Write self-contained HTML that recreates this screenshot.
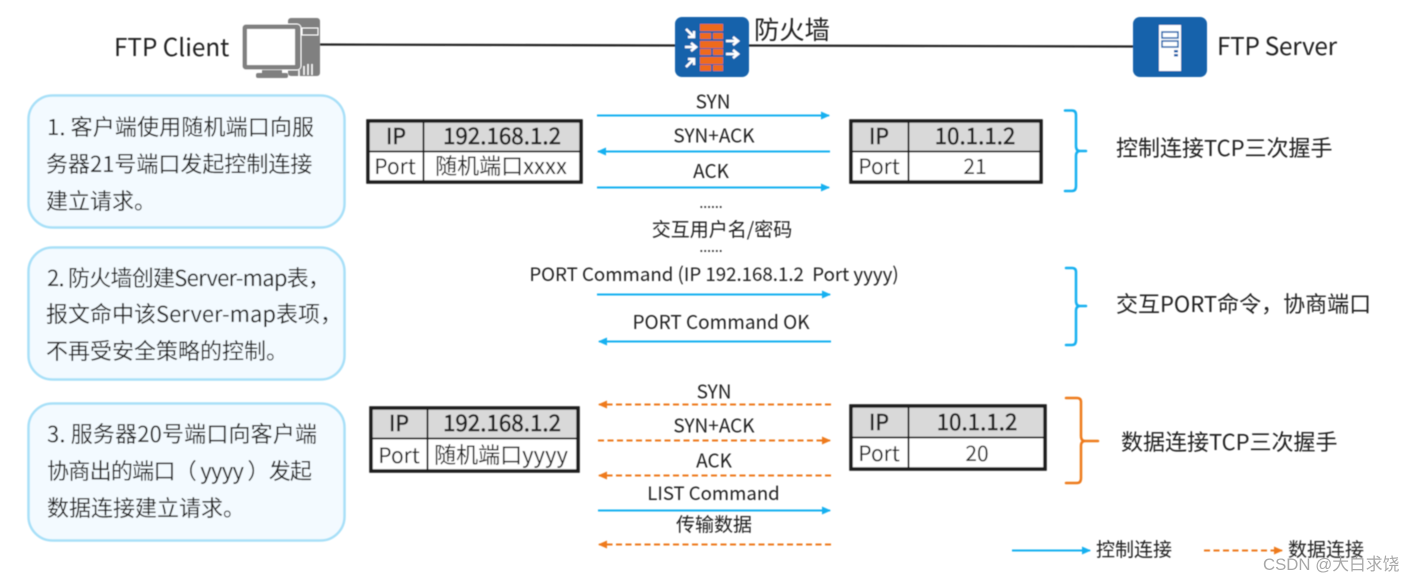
<!DOCTYPE html>
<html><head><meta charset="utf-8">
<style>
html,body{margin:0;padding:0;background:#fff;width:1415px;height:582px;overflow:hidden}
svg{display:block}
text{font-family:"Liberation Sans","Noto Sans CJK SC",sans-serif;fill:#222}
.n{font-family:"Noto Sans CJK SC","Liberation Sans",sans-serif}
.m{text-anchor:middle}
.s{font-size:19px}
.b{font-size:22px}
.p{font-size:21px}
.r{font-size:22.400px;stroke:#222;stroke-width:.5px}
.i{font-size:21.500px;stroke:#222;stroke-width:.5px}
.h{font-size:24.300px}
</style></head><body>
<svg width="1415" height="582" viewBox="0 0 1415 582" xmlns="http://www.w3.org/2000/svg">
<defs>
<marker id="ab" markerWidth="10" markerHeight="10" refX="8" refY="4" orient="auto" markerUnits="userSpaceOnUse"><path d="M0 0L9 4L0 8Z" fill="#12b0f0"/></marker>
<marker id="ao" markerWidth="10" markerHeight="10" refX="8" refY="4" orient="auto" markerUnits="userSpaceOnUse"><path d="M0 0L9 4L0 8Z" fill="#ee7a1c"/></marker>
<filter id="bl" x="-5%" y="-5%" width="110%" height="110%"><feGaussianBlur stdDeviation="0.45"/></filter>
</defs>
<g filter="url(#bl)">
<!-- top line -->
<path d="M316 44.500L680 45.500M745 45.500L1135 46.500" stroke="#222" stroke-width="2.200" fill="none"/>
<text class="n h" x="114" y="56">FTP Client</text>
<!-- computer -->
<rect x="288" y="18" width="32" height="58" rx="3" fill="#808080"/>
<rect x="302" y="28" width="16" height="7" fill="#808080" stroke="#fff"/>
<path d="M299 76V70M304 75V66M308 75V64M312 75V64" stroke="#fff" stroke-width="1.500"/>
<rect x="242" y="24" width="59" height="46" rx="4" fill="#808080" stroke="#fff" stroke-width="1"/>
<rect x="247" y="29" width="48" height="36" fill="#fff"/>
<rect x="256" y="73" width="32" height="5" rx="2" fill="#808080"/>
<rect x="262" y="70" width="20" height="3" fill="#808080"/>
<!-- firewall -->
<rect x="675" y="17" width="74" height="60" rx="7" fill="#1262ab"/>
<g fill="#ee6a1f">
<rect x="700" y="24" width="23" height="7"/><rect x="700" y="33" width="11" height="6"/><rect x="713" y="33" width="10" height="6"/>
<rect x="700" y="41" width="23" height="7"/><rect x="700" y="49" width="11" height="6"/><rect x="713" y="49" width="10" height="6"/>
<rect x="700" y="57" width="23" height="7"/><rect x="700" y="65" width="11" height="6"/><rect x="713" y="65" width="10" height="6"/>
</g>
<g stroke="#fff" stroke-width="2.500" fill="none">
<path d="M686 29L694 37M694 31V37H688"/><path d="M685 47H695M691 43L696 47L691 51"/><path d="M686 67L694 59M688 59H694V65"/>
<path d="M726 41H737M733 37L738 41L733 45"/><path d="M726 54H737M733 50L738 54L733 58"/>
</g>
<text x="754" y="39" font-size="25.300" class="n">防火墙</text>
<!-- server -->
<rect x="1133" y="17" width="74" height="60" rx="7" fill="#1262ab"/>
<rect x="1159" y="25" width="22" height="46" fill="#fff"/>
<rect x="1162" y="32" width="16" height="6" fill="#fff" stroke="#1262ab" stroke-width="1.500"/>
<rect x="1162" y="41" width="16" height="6" fill="#fff" stroke="#1262ab" stroke-width="1.500"/>
<rect x="1174" y="50" width="4" height="2.500" fill="#1262ab"/><rect x="1174" y="54" width="4" height="2.500" fill="#1262ab"/>
<text class="n h" x="1217" y="55" textLength="120">FTP Server</text>
<!-- left boxes -->
<rect x="28.500" y="95.500" width="316" height="132" rx="24" fill="#f3faff" stroke="#a8e0f8" stroke-width="2.500"/>
<rect x="28.500" y="247.500" width="316" height="132" rx="24" fill="#f3faff" stroke="#a8e0f8" stroke-width="2.500"/>
<rect x="28.500" y="403.500" width="316" height="137" rx="24" fill="#f3faff" stroke="#a8e0f8" stroke-width="2.500"/>
<text class="n b" x="47" y="135" textLength="267">1. 客户端使用随机端口向服</text>
<text class="n b" x="46" y="172">务器21号端口发起控制连接</text>
<text class="n b" x="46" y="209">建立请求。</text>
<text class="n b" x="47" y="286" textLength="283">2. 防火墙创建Server-map表，</text>
<text class="n b" x="46" y="322">报文命中该Server-map表项，</text>
<text class="n b" x="46" y="359">不再受安全策略的控制。</text>
<text class="n b" x="47" y="442" textLength="270">3. 服务器20号端口向客户端</text>
<text class="n b" x="47" y="479" textLength="265">协商出的端口（ yyyy ）发起</text>
<text class="n b" x="47" y="516">数据连接建立请求。</text>
<!-- table 1 -->
<rect x="368" y="121" width="213" height="61" fill="#fff" stroke="#1a1a1a" stroke-width="3.500"/>
<rect x="370" y="123" width="209" height="28" fill="#d9d9d9"/>
<path d="M368 151.500H581M423.500 121V182" stroke="#1a1a1a" stroke-width="1.800"/>
<text class="n i m" x="396" y="144">IP</text>
<text class="n r m" x="502" y="144">192.168.1.2</text>
<text class="n p m" x="395" y="174">Port</text>
<text class="n b m" x="501" y="174">随机端口xxxx</text>
<!-- table 2 -->
<rect x="851" y="121" width="190" height="61" fill="#fff" stroke="#1a1a1a" stroke-width="3.500"/>
<rect x="853" y="123" width="186" height="28" fill="#d9d9d9"/>
<path d="M851 151.500H1041M908.500 121V182" stroke="#1a1a1a" stroke-width="1.800"/>
<text class="n i m" x="879" y="144">IP</text>
<text class="n r m" x="975" y="144">10.1.1.2</text>
<text class="n p m" x="879" y="174">Port</text>
<text class="n p m" x="975" y="174">21</text>
<!-- table 3 -->
<rect x="371" y="408" width="207" height="63" fill="#fff" stroke="#1a1a1a" stroke-width="3.500"/>
<rect x="373" y="410" width="203" height="28" fill="#d9d9d9"/>
<path d="M371 438.500H578M427.500 408V471" stroke="#1a1a1a" stroke-width="1.800"/>
<text class="n i m" x="399" y="431">IP</text>
<text class="n r m" x="502" y="431">192.168.1.2</text>
<text class="n p m" x="399" y="463">Port</text>
<text class="n b m" x="501" y="463">随机端口yyyy</text>
<!-- table 4 -->
<rect x="851" y="406" width="194" height="63" fill="#fff" stroke="#1a1a1a" stroke-width="3.500"/>
<rect x="853" y="408" width="190" height="29" fill="#d9d9d9"/>
<path d="M851 437.500H1045M908.500 406V469" stroke="#1a1a1a" stroke-width="1.800"/>
<text class="n i m" x="879" y="430">IP</text>
<text class="n r m" x="977" y="430">10.1.1.2</text>
<text class="n p m" x="879" y="461">Port</text>
<text class="n p m" x="977" y="461">20</text>
<!-- blue arrows -->
<g stroke="#12b0f0" stroke-width="2" fill="none">
<path d="M597 115.500H829" marker-end="url(#ab)"/>
<path d="M830 151.500H598" marker-end="url(#ab)"/>
<path d="M597 187.500H829" marker-end="url(#ab)"/>
<path d="M597 294.500H830" marker-end="url(#ab)"/>
<path d="M831 341.500H599" marker-end="url(#ab)"/>
<path d="M598 510.500H830" marker-end="url(#ab)"/>
<path d="M1012 550.500H1090" marker-end="url(#ab)"/>
</g>
<!-- orange arrows -->
<g stroke="#ee7a1c" stroke-width="2" fill="none" stroke-dasharray="6 3.500">
<path d="M831 404.500H599" marker-end="url(#ao)"/>
<path d="M598 440.500H830" marker-end="url(#ao)"/>
<path d="M831 475.500H599" marker-end="url(#ao)"/>
<path d="M831 544.500H599" marker-end="url(#ao)"/>
<path d="M1204 550.500H1282" marker-end="url(#ao)"/>
</g>
<!-- arrow labels -->
<text class="n s m" x="713" y="108.500">SYN</text>
<text class="n s m" x="714" y="142.500">SYN+ACK</text>
<text class="n s m" x="711" y="178">ACK</text>
<text class="n m" x="711" y="208" font-size="14">......</text>
<text class="n s m" x="722" y="236">交互用户名/密码</text>
<text class="n m" x="711" y="252" font-size="14">......</text>
<text class="n m" x="714" y="281" font-size="18.700">PORT Command (IP 192.168.1.2 &#160;Port yyyy)</text>
<text class="n s m" x="721" y="329">PORT Command OK</text>
<text class="n s m" x="714" y="398.500">SYN</text>
<text class="n s m" x="714" y="432.500">SYN+ACK</text>
<text class="n s m" x="714" y="467.500">ACK</text>
<text class="n m" x="713.500" y="500" font-size="18.600">LIST Command</text>
<text class="n s m" x="714" y="531">传输数据</text>
<!-- braces -->
<g fill="none" stroke-width="2.500" stroke-linecap="round">
<path d="M1065 110.500H1072Q1076 110.500 1076 115V146Q1076 151 1080 151H1086M1080 151Q1076 151 1076 156V186Q1076 191 1072 191H1065" stroke="#12b0f0"/>
<path d="M1066 268H1072Q1076 268 1076 272V301Q1076 306 1080 306H1086M1080 306Q1076 306 1076 311V340Q1076 345 1072 345H1066" stroke="#12b0f0"/>
<path d="M1066 398H1077Q1081 398 1081 402V436Q1081 441 1085 441H1098M1085 441Q1081 441 1081 446V478Q1081 483 1077 483H1066" stroke="#ee7a1c"/>
</g>
<text class="n b" x="1116" y="156">控制连接TCP三次握手</text>
<text class="n b" x="1116" y="312">交互PORT命令，协商端口</text>
<text class="n b" x="1121" y="450">数据连接TCP三次握手</text>
<text class="n s" x="1096" y="556">控制连接</text>
<text class="n s" x="1288" y="556">数据连接</text>
</g>
<text x="1263" y="570" font-size="16.800" style="fill:#a8a8a8">CSDN @大白求饶</text>
</svg>
</body></html>
